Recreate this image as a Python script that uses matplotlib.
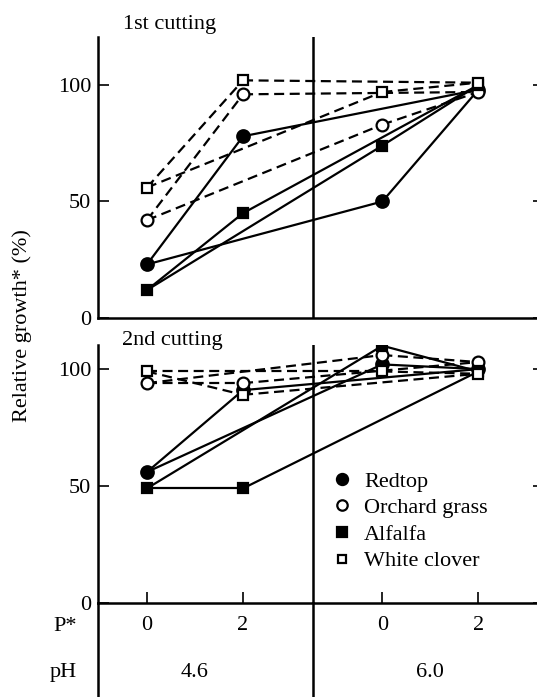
import numpy as np
import matplotlib
matplotlib.use('Agg')
import matplotlib.pyplot as plt

plt.rcParams['font.family'] = ['Liberation Serif', 'DejaVu Serif']

# Datos (pH 4.6 P0, pH 4.6 P2, pH 6.0 P0, pH 6.0 P2)
species = ['Redtop', 'Orchard grass', 'Alfalfa', 'White clover']
redtop_1 = [23, 78, 50, 98]
orchard_1 = [42, 96, 83, 97]
alfalfa_1 = [12, 45, 74, 100]
clover_1 = [56, 102, 97, 101]
redtop_2 = [56, 91, 102, 100]
orchard_2 = [94, 94, 106, 103]
alfalfa_2 = [49, 49, 110, 99]
clover_2 = [99, 89, 99, 98]
p_labels = ['0', '2', '0', '2']
ph_labels = ['4.6', '6.0']

# estilos por especie
markers = ['o', 'o', 's', 's']
faces = ['black', 'white', 'black', 'white']
msizes = [9, 8.5, 7.5, 6.5]
styles = ['-', (0, (4.5, 2.5)), '-', (0, (4.5, 2.5))]

xpos = np.array([0, 1, 2.45, 3.45])
xdiv = 1.73
xlim = (-0.51, 4.06)
fs = 16

W, H = 537, 697
fig = plt.figure(figsize=(W / 100, H / 100), dpi=100)

def px_axes(left, top, right, bottom):
    return fig.add_axes([left / W, 1 - bottom / H, (right - left) / W, (bottom - top) / H])

ax1 = px_axes(98, 37, 537, 318)
ax2 = px_axes(98, 345, 537, 603)
ax1.set_ylim(0, 120.6)
ax2.set_ylim(0, 110.3)

def draw_panel(ax, series):
    for i, vals in enumerate(series):
        v = np.array(vals)
        # cuadrilatero: P0->P2 en cada pH, y mismo P entre pH
        for a, b in [(0, 1), (0, 2), (1, 3), (2, 3)]:
            ax.plot(xpos[[a, b]], v[[a, b]], color='black', lw=1.6, ls=styles[i],
                    solid_capstyle='butt', dash_capstyle='butt', zorder=2)
    for i, vals in enumerate(series):
        ax.plot(xpos, vals, ls='none', marker=markers[i], ms=msizes[i],
                mfc=faces[i], mec='black', mew=1.6, zorder=3)

draw_panel(ax1, [redtop_1, orchard_1, alfalfa_1, clover_1])
draw_panel(ax2, [redtop_2, orchard_2, alfalfa_2, clover_2])

for ax in (ax1, ax2):
    ax.set_xlim(*xlim)
    for s in ['top', 'right']:
        ax.spines[s].set_visible(False)
    for s in ['left', 'bottom']:
        ax.spines[s].set_linewidth(1.8)
    ax.set_yticks([0, 50, 100])
    ax.set_yticklabels(['0', '50', '100'], fontsize=fs)
    ax.tick_params(axis='y', direction='in', length=8, width=1.2, pad=5,
                   right=True, labelright=False)
    ax.axvline(xdiv, color='black', lw=1.8)
    # ticks derechos mas cortos
    for t in ax.yaxis.get_major_ticks():
        t.tick2line.set_markersize(3)

ax1.set_xticks([])
ax2.set_xticks(xpos)
ax2.set_xticklabels(p_labels, fontsize=fs)
ax2.tick_params(axis='x', direction='in', length=8, width=1.2, pad=9)

# lineas que bajan hasta la tabla inferior
ext = (603 - H) / (603 - 345)
ax2.axvline(xlim[0], ymin=ext, ymax=0, color='black', lw=1.8, clip_on=False)
ax2.axvline(xdiv, ymin=ext, ymax=0, color='black', lw=1.8, clip_on=False)

tr = ax2.get_xaxis_transform()
ax2.text(xlim[0] - 0.22, -0.09, 'P*', transform=tr, ha='right', va='center', fontsize=fs)
ax2.text(xlim[0] - 0.22, -0.27, 'pH', transform=tr, ha='right', va='center', fontsize=fs)
ax2.text((xpos[0] + xpos[1]) / 2, -0.27, ph_labels[0], transform=tr, ha='center', va='center', fontsize=fs)
ax2.text((xpos[2] + xpos[3]) / 2, -0.27, ph_labels[1], transform=tr, ha='center', va='center', fontsize=fs)

fig.text(123 / W, 1 - 24 / H, '1st cutting', ha='left', va='center', fontsize=fs)
fig.text(122 / W, 1 - 341 / H, '2nd cutting', ha='left', va='center', fontsize=fs)
fig.text(22 / W, 1 - 326 / H, 'Relative growth* (%)', rotation=90, ha='center', va='center', fontsize=fs)

# leyenda solo con marcadores
handles = [plt.Line2D([], [], ls='none', marker=markers[i], ms=msizes[i] - 1,
                      mfc=faces[i], mec='black', mew=1.6) for i in range(4)]
leg = ax2.legend(handles, species, loc='upper left', bbox_to_anchor=(0.535, 0.511),
                 frameon=False, fontsize=fs, handlelength=0.8, handletextpad=0.6,
                 labelspacing=0.27, borderpad=0, borderaxespad=0)

fig.savefig('out.png', dpi=100)
